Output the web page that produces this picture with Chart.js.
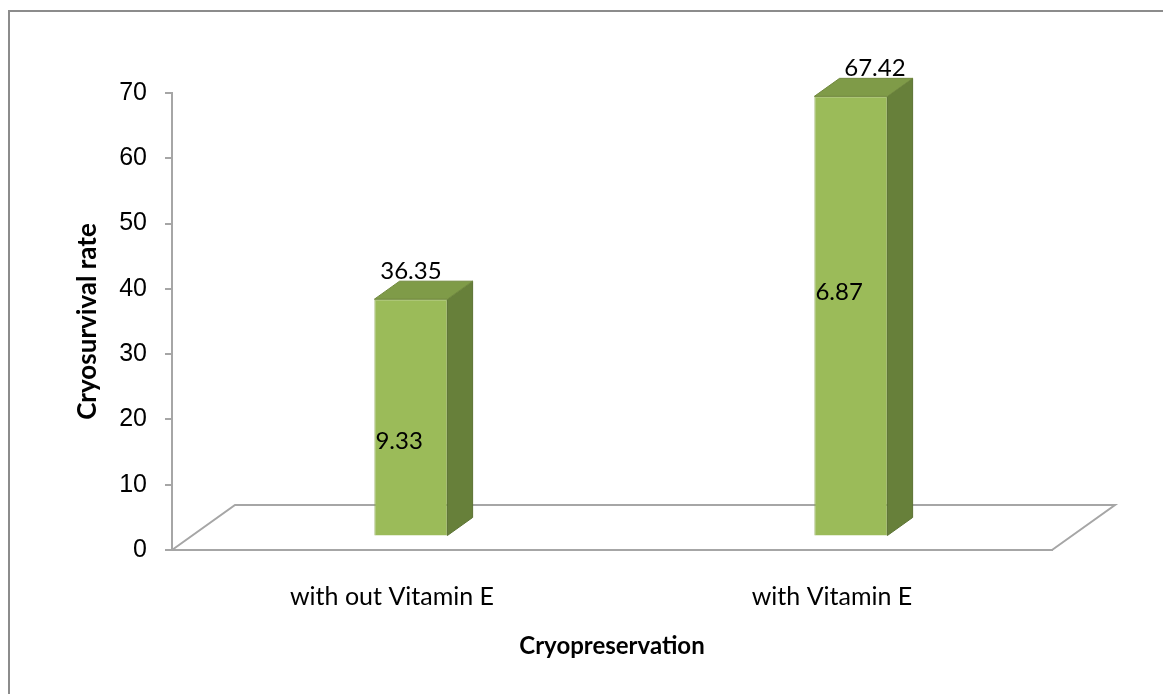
<!DOCTYPE html>
<html>
<head>
<meta charset="utf-8">
<script src="https://cdn.jsdelivr.net/npm/chart.js@4.4.0/dist/chart.umd.min.js"></script>
<style>
    html, body { margin: 0; padding: 0; background: #fff; }
    #frame { position: absolute; left: 8px; top: 10px; width: 1200px; height: 720px;
             border-left: 2px solid #8c8c8c; border-top: 2px solid #8c8c8c; }
    #wrap { position: absolute; left: 0; top: 0; width: 1163px; height: 694px; }
</style>
</head>
<body>
<div id="frame"></div>
<div id="wrap"><canvas id="chart"></canvas></div>
<script>
const categories = ['with out Vitamin E', 'with Vitamin E'];
const survivalMeans = [36.35, 67.42];
const survivalSd = [9.33, 6.87];
const yTicks = [0, 10, 20, 30, 40, 50, 60, 70];

const axisGray = '#a6a6a6';
const calibriLike = 'Lato, "Open Sans", sans-serif';

// floor depth of the 3D box, bars sit between 30% and 70% of it
const DEPTH = { x: 63, y: -45 };
const BAR_FRONT = 0.3;
const BAR_BACK = 0.7;

const threeD = {
    id: 'threeD',
    beforeDatasetsDraw(chart) {
        const { ctx, chartArea: a } = chart;
        ctx.save();
        ctx.strokeStyle = axisGray;
        ctx.lineWidth = 2;
        ctx.beginPath();
        ctx.moveTo(a.left, a.bottom);
        ctx.lineTo(a.left + DEPTH.x, a.bottom + DEPTH.y);
        ctx.lineTo(a.right + DEPTH.x, a.bottom + DEPTH.y);
        ctx.lineTo(a.right, a.bottom);
        ctx.stroke();
        ctx.restore();
        ctx.save();
        ctx.translate(DEPTH.x * BAR_FRONT, DEPTH.y * BAR_FRONT);
    },
    afterDatasetsDraw(chart) {
        const ctx = chart.ctx;
        ctx.restore();
        const ox = DEPTH.x * BAR_FRONT, oy = DEPTH.y * BAR_FRONT;
        const dx = DEPTH.x * (BAR_BACK - BAR_FRONT), dy = DEPTH.y * (BAR_BACK - BAR_FRONT);
        const meta = chart.getDatasetMeta(0);
        const meanShift = [0, 24];
        const sdAt = [0.40, 0.555];
        meta.data.forEach((bar, i) => {
            const l = bar.x - bar.width / 2 + ox, r = bar.x + bar.width / 2 + ox;
            const t = bar.y + oy, b = bar.base + oy;
            ctx.save();
            ctx.lineWidth = 1;
            // side face
            ctx.fillStyle = '#67803a';
            ctx.strokeStyle = '#5b7233';
            ctx.beginPath();
            ctx.moveTo(r, t);
            ctx.lineTo(r + dx, t + dy);
            ctx.lineTo(r + dx, b + dy);
            ctx.lineTo(r, b);
            ctx.closePath();
            ctx.fill();
            ctx.stroke();
            // top face
            ctx.fillStyle = '#7f9b48';
            ctx.strokeStyle = '#71893f';
            ctx.beginPath();
            ctx.moveTo(l, t);
            ctx.lineTo(l + dx, t + dy);
            ctx.lineTo(r + dx, t + dy);
            ctx.lineTo(r, t);
            ctx.closePath();
            ctx.fill();
            ctx.stroke();
            // labels
            ctx.fillStyle = '#000';
            ctx.font = '24px ' + calibriLike;
            ctx.textAlign = 'center';
            ctx.textBaseline = 'middle';
            ctx.fillText(survivalMeans[i].toFixed(2), (l + r) / 2 + meanShift[i], t + dy - 10);
            ctx.textAlign = 'left';
            ctx.fillText(survivalSd[i].toFixed(2), l + 1, b - (b - t) * sdAt[i]);
            ctx.restore();
        });
    }
};

new Chart(document.getElementById('chart'), {
    type: 'bar',
    data: {
        labels: categories,
        datasets: [{
            label: 'Cryosurvival rate',
            data: survivalMeans,
            backgroundColor: '#9bbb59',
            borderColor: '#8aa84c',
            borderWidth: 1,
            categoryPercentage: 1,
            barPercentage: 0.166,
            clip: false,
        }],
    },
    options: {
        responsive: true,
        maintainAspectRatio: false,
        animation: false,
        events: [],
        layout: { padding: { left: 0, right: 111, top: 93, bottom: 0 } },
        plugins: { legend: { display: false }, tooltip: { enabled: false } },
        scales: {
            x: {
                afterFit: s => { s.height = 144; },
                grid: { display: false },
                border: { color: axisGray, width: 2 },
                ticks: { color: '#000', padding: 24, font: { family: calibriLike, size: 25 } },
                title: {
                    display: true,
                    text: 'Cryopreservation',
                    color: '#000',
                    padding: { top: 33, bottom: 33 },
                    font: { family: calibriLike, size: 24, weight: 'bold' },
                },
            },
            y: {
                min: 0,
                max: 70,
                afterFit: s => { s.width = 172; },
                afterBuildTicks: s => { s.ticks = yTicks.map(v => ({ value: v })); },
                grid: { drawOnChartArea: false, drawTicks: true, tickLength: 7, color: axisGray, lineWidth: 2 },
                border: { color: axisGray, width: 2 },
                ticks: { color: '#000', padding: 18, font: { family: '"Liberation Sans", Arial, sans-serif', size: 25 } },
                title: {
                    display: true,
                    text: 'Cryosurvival rate',
                    color: '#000',
                    padding: { top: 72, bottom: 0 },
                    font: { family: calibriLike, size: 26, weight: 'bold' },
                },
            },
        },
    },
    plugins: [threeD],
});
</script>
</body>
</html>
